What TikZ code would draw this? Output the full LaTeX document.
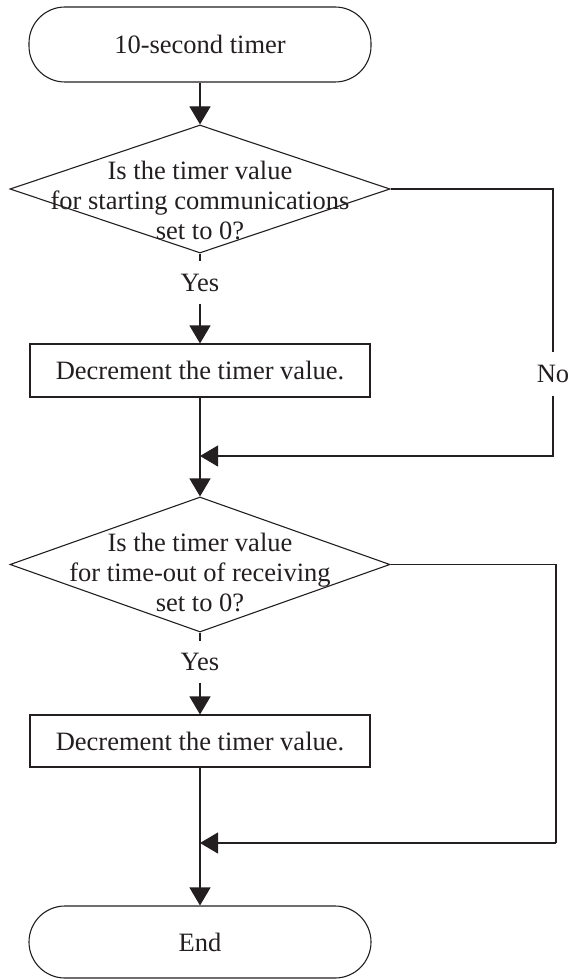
\documentclass[tikz,border=0pt]{standalone}
\usepackage{fontspec}
\setmainfont{Liberation Serif}
\usetikzlibrary{shapes.geometric,arrows.meta}
\definecolor{ink}{HTML}{231F20}
\begin{document}
\begin{tikzpicture}[x=1pt,y=-1pt, line width=1.1pt, draw=ink, text=ink,
  every node/.style={font=\fontsize{26.5}{30}\selectfont},
  term/.style={draw, rounded corners=36pt, minimum width=342pt, minimum height=75pt, inner sep=0pt},
  proc/.style={draw, minimum width=340pt, minimum height=53pt, inner sep=0pt},
  dec/.style={draw, diamond, minimum width=380pt, minimum height=128pt, inner sep=0pt},
  lbl/.style={inner sep=0pt, align=center},
  flow/.style={-{Triangle[length=18pt,width=21pt]}},
  ]
\useasboundingbox (0,0) rectangle (568,979);
\node[term] (start) at (200,44.5) {10-second timer};
\node[dec] (d1) at (200,189) {};
\node[lbl] (t1) at (200,200) {Is the timer value\\for starting communications\\set to 0?};
\node[lbl, minimum height=41pt] (yes1) at (200,282.5) {Yes};
\node[proc] (b1) at (200,370.5) {Decrement the timer value.};
\coordinate (j1) at (200,456);
\node[lbl, minimum height=42pt] (no) at (553,374) {No};
\node[dec, minimum height=135pt] (d2) at (200,564.5) {};
\node[lbl] (t2) at (200,572) {Is the timer value\\for time-out of receiving\\set to 0?};
\node[lbl, minimum height=40pt] (yes2) at (200,662) {Yes};
\node[proc, minimum height=52pt] (b2) at (200,741) {Decrement the timer value.};
\coordinate (j2) at (200,843);
\coordinate (c2) at (556,843);
\node[term, minimum height=72pt] (end) at (200,942) {End};

\draw[flow] (start.south) -- (d1.north);
\draw (d1.south) -- (yes1.north);
\draw[flow] (yes1.south) -- (b1.north);
\draw (b1.south) -- (j1);
\draw[flow] (j1) -- (d2.north);
\draw (d1.east) -| (no.north);
\draw[flow] (no.south) |- (j1);
\draw (d2.south) -- (yes2.north);
\draw[flow] (yes2.south) -- (b2.north);
\draw (b2.south) -- (j2);
\draw[flow] (j2) -- (end.north);
\draw (d2.east) -| (c2);
\draw[flow] (c2) -- (j2);
\end{tikzpicture}
\end{document}
